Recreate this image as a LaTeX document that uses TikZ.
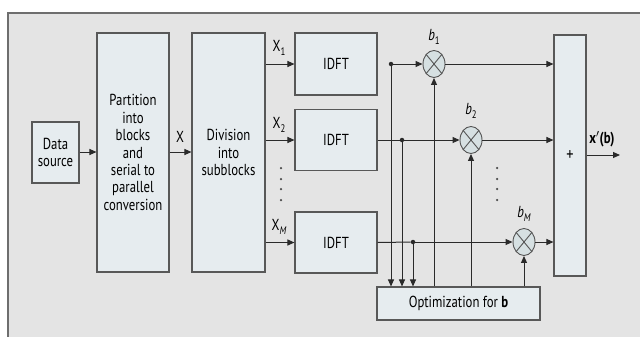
\documentclass[tikz,border=0pt]{standalone}
\usepackage{fontspec}
\setmainfont[FakeStretch=0.8]{PT Sans}
\usetikzlibrary{arrows.meta,shapes.geometric}
\definecolor{bgc}{HTML}{E4E4E4}
\definecolor{boxc}{HTML}{E6ECEF}
\definecolor{multc}{HTML}{D6E0E2}
\definecolor{linec}{HTML}{2A2A2A}
\definecolor{framec}{HTML}{6E6E6E}
\newcommand{\subidx}[1]{\raisebox{-0.45ex}{\fontsize{11}{11}\selectfont #1}}
\tikzset{
  blk/.style={draw=framec!80!black, fill=boxc, line width=1.1bp, inner sep=0pt, align=center, font=\fontsize{16}{17.5}\selectfont},
  mult/.style={draw=linec!80, fill=multc, ellipse, minimum width=22bp, minimum height=27bp, inner sep=0pt, line width=0.9bp},
  conn/.style={draw=linec, line width=1bp},
  arr/.style={conn, -{Triangle[length=7bp,width=6bp]}},
  lbl/.style={font=\fontsize{16}{16}\selectfont, inner sep=0pt},
  jdot/.style={circle, fill=linec, inner sep=0pt, minimum size=4.5bp},
  vdot/.style={circle, fill=linec!85, inner sep=0pt, minimum size=2.5bp}
}
\begin{document}
\begin{tikzpicture}[x=1bp,y=-1bp]
\useasboundingbox (0,0) rectangle (640,336);
\clip (0,0) rectangle (640,336);
\fill[white] (0,0) rectangle (640,336);
\draw[fill=bgc, draw=framec, line width=1.5bp] (8,13) rectangle (660,360);

% blocks
\node[blk, minimum width=47bp, minimum height=61bp] (ds) at (55.5,152.5) {Data\\source};
\node[blk, minimum width=72bp, minimum height=239bp] (part) at (133,152.5) {Partition\\into\\blocks\\and\\serial to\\parallel\\conversion};
\node[blk, minimum width=73bp, minimum height=239bp] (div) at (228.5,152.5) {Division\\into\\subblocks};
\node[blk, minimum width=82bp, minimum height=62bp] (id1) at (336,64) {IDFT};
\node[blk, minimum width=82bp, minimum height=61bp] (id2) at (336,140) {IDFT};
\node[blk, minimum width=82bp, minimum height=61bp] (id3) at (336,242.5) {IDFT};
\node[blk, minimum width=32bp, minimum height=241bp, font=\fontsize{18}{18}\selectfont] (sum) at (570,155.5) {+};
\node[blk, minimum width=163bp, minimum height=33bp] (opt) at (458.5,303.5) {Optimization for \textbf{b}};

% multipliers
\foreach \n/\x/\y in {m1/434/64, m2/471/140, m3/524/242}{
  \node[mult] (\n) at (\x,\y) {};
  \draw[linec!80, line width=0.9bp] (\n.north west) -- (\n.south east) (\n.north east) -- (\n.south west);
}
\node[lbl] (lb1) at (434,37) {\textit{b}\subidx{1}};
\node[lbl] (lb2) at (471,111) {\textit{b}\subidx{2}};
\node[lbl] (lbM) at (524,214) {\textit{b}\subidx{\textit{M}}};

% left chain
\draw[arr] (ds.east |- 0,152) -- (part.west |- 0,152);
\draw[arr] (part.east |- 0,152) -- (div.west |- 0,152);
\node[lbl] (lx) at (180,137) {X};
\draw[arr] (div.east |- id1) -- (id1.west);
\draw[arr] (div.east |- id2) -- (id2.west);
\draw[arr] (div.east |- id3) -- (id3.west);
\node[lbl] (lx1) at (279,48) {X\subidx{1}};
\node[lbl] (lx2) at (279,125) {X\subidx{2}};
\node[lbl] (lxM) at (279,227) {X\subidx{\textit{M}}};
\foreach \yy in {168,179,189,200} \node[vdot] at (281,\yy) {};
\foreach \yy in {168,179,189,200} \node[vdot] at (497,\yy) {};

% junctions
\node[jdot] (j1) at (391,64) {};
\node[jdot] (j2) at (402,140) {};
\node[jdot] (j3) at (413,242) {};
\draw[arr] (j1) -- (m1.west);
\draw[conn] (id2.east) -- (j2);
\draw[arr] (j2) -- (m2.west);
\draw[conn] (id3.east) -- (j3);
\draw[arr] (j3) -- (m3.west);
\draw[arr] (j1) -- (j1 |- opt.north);
\draw[arr] (j2) -- (j2 |- opt.north);
\draw[arr] (j3) -- (j3 |- opt.north);
\draw[arr] (m1 |- opt.north) -- (m1.south);
\draw[arr] (m2 |- opt.north) -- (m2.south);
\draw[arr] (m3 |- opt.north) -- (m3.south);

% to sum
\draw[arr] (m1.east) -- (sum.west |- m1);
\draw[arr] (m2.east) -- (sum.west |- m2);
\draw[arr] (m3.east) -- (sum.west |- m3);
\coordinate (out) at (620,155);
\draw[arr] (sum.east |- out) -- (out);
\node[lbl] (lout) at (602,139) {\textbf{x$'$(b)}};
\end{tikzpicture}
\end{document}
